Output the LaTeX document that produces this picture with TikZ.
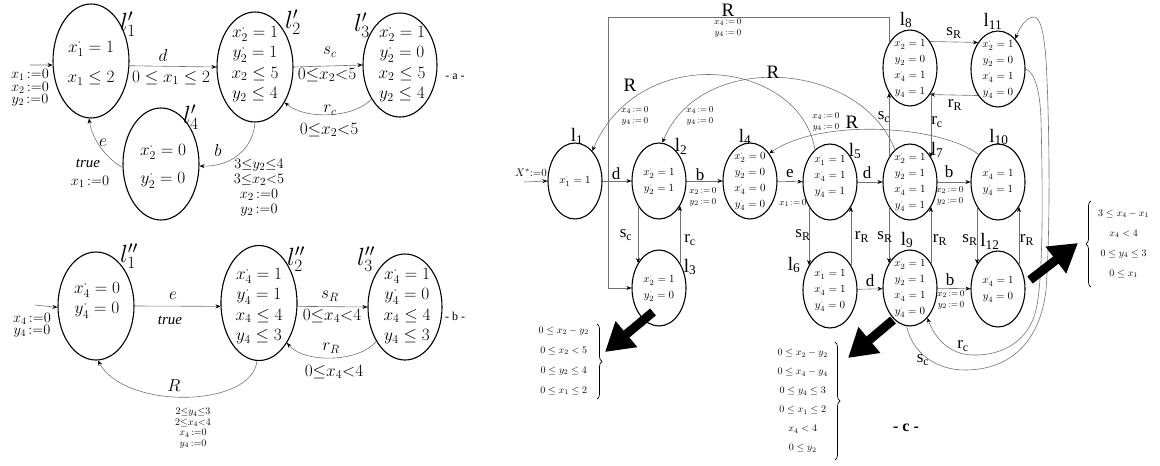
\documentclass[tikz,border=0pt]{standalone}
\usepackage{fontspec}
\setmainfont{Liberation Serif}
\usetikzlibrary{shapes.geometric,arrows.meta,decorations.pathreplacing}
\newcommand{\dotv}[3]{$#1^{\cdot}_{#2} = #3$}
\newcommand{\asgn}[2]{$#1_{#2}\,{:=}\,0$}
\begin{document}
\begin{tikzpicture}[x=1pt,y=-1pt,
  stA/.style={ellipse,draw,line width=1.1pt,minimum width=76pt,inner sep=0pt},
  stC/.style={ellipse,draw,line width=1.1pt,minimum width=54pt,minimum height=76pt,inner sep=0pt},
  txtA/.style={font=\fontsize{17}{20.5}\selectfont,align=center,inner sep=0pt},
  txtC/.style={font=\fontsize{11}{16}\selectfont,align=center,inner sep=0pt},
  conn/.style={draw=black!55,line width=0.6pt,-{Stealth[length=5pt,width=4pt,color=black]}},
  lblA/.style={font=\fontsize{17}{17}\selectfont,inner sep=0pt},
  condA/.style={font=\fontsize{15}{15}\selectfont,inner sep=0pt,align=center},
  nameA/.style={font=\fontsize{26}{26}\selectfont,inner sep=0pt},
  lblC/.style={font=\fontsize{17}{17}\selectfont,inner sep=0pt},
  nameC/.style={font=\fontsize{19}{19}\selectfont,inner sep=0pt},
  asgC/.style={font=\fontsize{9.5}{11}\selectfont,inner sep=0pt,align=center},
  bt/.style={font=\fontsize{10}{20}\selectfont,inner sep=1pt,align=center},
  brc/.style={decorate,decoration={brace,amplitude=5pt},line width=0.7pt},
  bigarrow/.style={draw=black,line width=9pt,-{Triangle[length=28pt,width=32pt]}},
  parttag/.style={font=\fontsize{12}{12}\selectfont,inner sep=0pt}
]
\useasboundingbox (0,0) rectangle (1160,466);

% ---------------- part a ----------------
\node[stA,minimum height=114pt] (a1) at (91,61) {};
\node[txtA] (a1t) at (91,63) {\dotv{x}{1}{1}\\[10pt]$x_1 \le 2$};
\node[stA,minimum height=110pt] (a2) at (255,67) {};
\node[txtA] (a2t) at (255,64) {\dotv{x}{2}{1}\\ \dotv{y}{2}{1}\\ $x_2 \le 5$\\ $y_2 \le 4$};
\node[stA,minimum width=74pt,minimum height=104pt] (a3) at (400,65) {};
\node[txtA] (a3t) at (402,64) {\dotv{x}{2}{1}\\ \dotv{y}{2}{0}\\ $x_2 \le 5$\\ $y_2 \le 4$};
\node[stA,minimum height=112pt] (a4) at (161,164) {};
\node[txtA] (a4t) at (163,166) {\dotv{x}{2}{0}\\[8pt] \dotv{y}{2}{0}};

\node[nameA] (na1) at (128,24) {$l'_1$};
\node[nameA] (na2) at (293,22) {$l'_2$};
\node[nameA] (na3) at (362,25) {$l'_3$};
\node[nameA] (na4) at (191,117) {$l'_4$};

\coordinate (ia) at (30,65);
\draw[conn] (ia) -- (a1.186);
\node[condA,font=\fontsize{14}{10}\selectfont] (ia1) at (30,88) {$x_1\,{:=}0$\\ $x_2\,{:=}0$\\ $y_2\,{:=}0$};

\draw[conn] (a1.-7) -- (a2.west);
\node[lblA] (ld) at (163,55) {$d$};
\node[lblA] (ldc) at (171,78) {$0 \le x_1 \le 2$};
\draw[conn] (a2.east) -- (a3.west);
\node[lblA] (lsc) at (330,52) {$s_c$};
\node[lblA] (lscc) at (327,75) {$0{\le}x_2{<}5$};
\draw[conn] (a3.-130) .. controls (355,118) and (305,120) .. (a2.-50);
\node[lblA] (lrc) at (330,110) {$r_c$};
\node[lblA] (lrcc) at (329,130) {$0{\le}x_2{<}5$};
\draw[conn] (a2.south) .. controls (253,150) and (230,167) .. (a4.-3);
\node[lblA] (lb) at (218,150) {$b$};
\node[condA,font=\fontsize{15}{15}\selectfont] (lbc) at (259,188) {$3{\le}y_2{\le}4$\\ $3{\le}x_2{<}5$\\ $x_2\,{:=}0$\\ $y_2\,{:=}0$};
\draw[conn] (a4.185) .. controls (108,160) and (92,140) .. (a1.-92);
\node[lblA] (le) at (103,143) {$e$};
\node[lblA,font=\fontsize{15}{15}\selectfont] (lt) at (88,163) {\textit{true}};
\node[condA] (lx1) at (90,182) {$x_1\,{:=}0$};
\node[parttag] (tagA) at (455,77) {- a -};

% ---------------- part b ----------------
\node[stA,minimum height=108pt] (b1) at (96,306) {};
\node[txtA] (b1t) at (97,300) {\dotv{x}{4}{0}\\ \dotv{y}{4}{0}};
\node[stA,minimum height=115pt] (b2) at (259,303) {};
\node[txtA] (b2t) at (259,306) {\dotv{x}{4}{1}\\ \dotv{y}{4}{1}\\ $x_4 \le 4$\\ $y_4 \le 3$};
\node[stA,minimum width=74pt,minimum height=106pt] (b3) at (405,307) {};
\node[txtA] (b3t) at (407,306) {\dotv{x}{4}{1}\\ \dotv{y}{4}{0}\\ $x_4 \le 4$\\ $y_4 \le 3$};

\node[nameA] (nb1) at (129,256) {$l''_1$};
\node[nameA] (nb2) at (296,259) {$l''_2$};
\node[nameA] (nb3) at (366,259) {$l''_3$};

\coordinate (ib) at (35,305);
\draw[conn] (ib) -- (b1.182);
\node[condA,font=\fontsize{14}{10.5}\selectfont] (ib1) at (32,325) {$x_4\,{:=}0$\\ $y_4\,{:=}0$};

\draw[conn] (b1.east) -- (b2.185);
\node[lblA] (lbe) at (173,296) {$e$};
\node[lblA,font=\fontsize{15}{15}\selectfont] (lbt) at (170,320) {\textit{true}};
\draw[conn] (b2.-5) -- (b3.west);
\node[lblA] (lsr) at (330,296) {$s_R$};
\node[lblA] (lsrc) at (332,316) {$0{\le}x_4{<}4$};
\draw[conn] (b3.-130) .. controls (360,362) and (305,364) .. (b2.-55);
\node[lblA] (lrr) at (331,348) {$r_R$};
\node[lblA] (lrrc) at (334,372) {$0{\le}x_4{<}4$};
\draw[conn] (b2.-92) .. controls (252,408) and (125,410) .. (b1.-88);
\node[lblA] (lR) at (174,386) {$R$};
\node[condA,font=\fontsize{10}{10.5}\selectfont] (lRc) at (193,428) {$2{\le}y_4{\le}3$\\ $2{\le}x_4{<}4$\\ $x_4\,{:=}0$\\ $y_4\,{:=}0$};
\node[parttag] (tagB) at (455,316) {- b -};

% ---------------- part c ----------------
\node[stC] (c1) at (575,181) {};
\node[txtC] (c1t) at (c1) {\dotv{x}{1}{1}};
\node[stC] (c2) at (659,181) {};
\node[txtC] (c2t) at (c2) {\dotv{x}{2}{1}\\ \dotv{y}{2}{1}};
\node[stC] (c3) at (659,288) {};
\node[txtC] (c3t) at (c3) {\dotv{x}{2}{1}\\ \dotv{y}{2}{0}};
\node[stC] (c4) at (750,181) {};
\node[txtC] (c4t) at (c4) {\dotv{x}{2}{0}\\ \dotv{y}{2}{0}\\ \dotv{x}{4}{0}\\ \dotv{y}{4}{0}};
\node[stC] (c5) at (830,182) {};
\node[txtC] (c5t) at (830,176) {\dotv{x}{1}{1}\\ \dotv{x}{4}{1}\\ \dotv{y}{4}{1}};
\node[stC] (c6) at (830,290) {};
\node[txtC] (c6t) at (c6) {\dotv{x}{1}{1}\\ \dotv{x}{4}{1}\\ \dotv{y}{4}{0}};
\node[stC] (c7) at (910,182) {};
\node[txtC] (c7t) at (c7) {\dotv{x}{2}{1}\\ \dotv{y}{2}{1}\\ \dotv{x}{4}{1}\\ \dotv{y}{4}{1}};
\node[stC] (c8) at (910,68) {};
\node[txtC] (c8t) at (c8) {\dotv{x}{2}{1}\\ \dotv{y}{2}{0}\\ \dotv{x}{4}{1}\\ \dotv{y}{4}{1}};
\node[stC] (c9) at (910,288) {};
\node[txtC] (c9t) at (c9) {\dotv{x}{2}{1}\\ \dotv{y}{2}{1}\\ \dotv{x}{4}{1}\\ \dotv{y}{4}{0}};
\node[stC] (c10) at (998,182) {};
\node[txtC] (c10t) at (c10) {\dotv{x}{4}{1}\\ \dotv{y}{4}{1}};
\node[stC] (c11) at (998,69) {};
\node[txtC] (c11t) at (c11) {\dotv{x}{2}{1}\\ \dotv{y}{2}{0}\\ \dotv{x}{4}{1}\\ \dotv{y}{4}{0}};
\node[stC] (c12) at (998,289) {};
\node[txtC] (c12t) at (c12) {\dotv{x}{4}{1}\\ \dotv{y}{4}{0}};

\node[nameC] (nc1) at (577,136) {l\textsubscript{1}};
\node[nameC] (nc2) at (681,146) {l\textsubscript{2}};
\node[nameC] (nc3) at (690,267) {l\textsubscript{3}};
\node[nameC] (nc4) at (745,137) {l\textsubscript{4}};
\node[nameC] (nc5) at (855,151) {l\textsubscript{5}};
\node[nameC] (nc6) at (794,265) {l\textsubscript{6}};
\node[nameC] (nc7) at (937,150) {l\textsubscript{7}};
\node[nameC] (nc8) at (906,20) {l\textsubscript{8}};
\node[nameC] (nc9) at (907,240) {l\textsubscript{9}};
\node[nameC] (nc10) at (999,137) {l\textsubscript{10}};
\node[nameC] (nc11) at (993,21) {l\textsubscript{11}};
\node[nameC] (nc12) at (990,241) {l\textsubscript{12}};

% initial
\coordinate (ic) at (524,182);
\draw[conn] (ic) -- (c1.west);
\node[font=\fontsize{11}{11}\selectfont,inner sep=0pt] (icl) at (531,173) {$X^{*}{:=}0$};

% horizontal edges
\draw[conn] (c1) -- (c2);
\node[lblC] (cd1) at (616,174) {d};
\draw[conn] (c2) -- (c4);
\node[lblC] (cb1) at (700,175) {b};
\node[asgC] (cb1a) at (703,197) {\asgn{x}{2}\\ \asgn{y}{2}};
\draw[conn] (c4) -- (c5);
\node[lblC] (ce1) at (790,174) {e};
\node[asgC] (ce1a) at (793,203) {\asgn{x}{1}};
\draw[conn] (c5) -- (c7);
\node[lblC] (cd2) at (867,173) {d};
\draw[conn] (c7) -- (c10);
\node[lblC] (cb2) at (949,172) {b};
\node[asgC] (cb2a) at (950,196) {\asgn{x}{2}\\ \asgn{y}{2}};
\draw[conn] (c6) -- (c9);
\node[lblC] (cd3) at (870,281) {d};
\draw[conn] (c9) -- (c12);
\node[lblC] (cb3) at (950,280) {b};
\node[asgC] (cb3a) at (951,300) {\asgn{x}{2}\\ \asgn{y}{2}};
\draw[conn] (c8.53) -- (c11.127);
\node[lblC] (csr0) at (954,33) {s\textsubscript{R}};
\draw[conn] (c11.-127) -- (c8.-53);
\node[lblC] (crr0) at (955,105) {r\textsubscript{R}};

% vertical edges
\draw[conn] (c2.-130) -- (c3.130);
\node[lblC] (csc1) at (626,235) {s\textsubscript{c}};
\draw[conn] (c3.50) -- (c2.-50);
\node[lblC] (crc1) at (690,240) {r\textsubscript{c}};
\draw[conn] (c5.-130) -- (c6.130);
\node[lblC] (csr1) at (803,235) {s\textsubscript{R}};
\draw[conn] (c6.50) -- (c5.-50);
\node[lblC] (crr1) at (862,237) {r\textsubscript{R}};
\draw[conn] (c7.-130) -- (c9.130);
\node[lblC] (csr2) at (885,237) {s\textsubscript{R}};
\draw[conn] (c9.50) -- (c7.-50);
\node[lblC] (crr2) at (940,240) {r\textsubscript{R}};
\draw[conn] (c10.-130) -- (c12.130);
\node[lblC] (csr3) at (970,240) {s\textsubscript{R}};
\draw[conn] (c12.50) -- (c10.-50);
\node[lblC] (crr3) at (1027,240) {r\textsubscript{R}};
\draw[conn] (c7.130) -- (c8.-130);
\node[lblC] (csc2) at (884,117) {s\textsubscript{c}};
\draw[conn] (c8.-50) -- (c7.50);
\node[lblC] (crc2) at (937,122) {r\textsubscript{c}};

% R rectangle path l8 -> l3
\coordinate (rtl) at (608,17);
\draw[conn] (c8.130) |- (rtl) |- (c3.west);
\node[lblC,font=\fontsize{19}{19}\selectfont] (cR0) at (728,10) {R};
\node[asgC] (cR0a) at (728,28) {\asgn{x}{4}\\ \asgn{y}{4}};

% R curves
\draw[conn] (c5.115) .. controls (800,60) and (640,40) .. (c1.60);
\node[lblC,font=\fontsize{19}{19}\selectfont] (cR1) at (630,85) {R};
\node[asgC] (cR1a) at (635,116) {\asgn{x}{4}\\ \asgn{y}{4}};
\draw[conn] (c7.115) .. controls (860,60) and (700,50) .. (c2.85);
\node[lblC,font=\fontsize{19}{19}\selectfont] (cR2) at (773,72) {R};
\node[asgC] (cR2a) at (700,116) {\asgn{x}{4}\\ \asgn{y}{4}};
\draw[conn] (c10.125) .. controls (940,125) and (820,118) .. (c4.55);
\node[lblC,font=\fontsize{19}{19}\selectfont] (cR3) at (852,122) {R};
\node[asgC] (cR3a) at (826,122) {\asgn{x}{4}\\ \asgn{y}{4}};

% s_c / r_c around the right side
\draw[conn] (c9.-95) .. controls (912,352) and (935,370) .. (965,370) .. controls (1010,370) and (1040,342) .. (1046,290) .. controls (1051,220) and (1049,110) .. (1046,60) .. controls (1044,32) and (1040,17) .. (1034,17) .. controls (1027,17) and (1020,26) .. (c11.60);
\draw[conn] (c11.east) .. controls (1034,72) and (1040,88) .. (1041,120) .. controls (1043,200) and (1043,280) .. (1036,310) .. controls (1028,343) and (1000,356) .. (972,355) .. controls (950,354) and (936,340) .. (c9.-60);
\node[lblC] (crc3) at (963,346) {r\textsubscript{c}};
\node[lblC] (csc3) at (923,360) {s\textsubscript{c}};

% constraint sets
\node[bt,anchor=east] (bt1) at (590,361) {$0 \le x_2 - y_2$\\ $0 \le x_2 < 5$\\ $0 \le y_2 \le 4$\\ $0 \le x_1 \le 2$};
\draw[brc] ([xshift=7pt,yshift=2pt]bt1.north east) -- ([xshift=7pt,yshift=-3pt]bt1.south east);
\node[bt,anchor=west] (bt2) at (1097,244) {$3 \le x_4 - x_1$\\ $x_4 < 4$\\ $0 \le y_4 \le 3$\\ $0 \le x_1$};
\draw[brc] ([xshift=-6pt,yshift=-8pt]bt2.south west) -- ([xshift=-6pt,yshift=8pt]bt2.north west);
\node[bt,font=\fontsize{10}{19}\selectfont,anchor=east] (bt3) at (829,401) {$0 \le x_2 - y_2$\\ $0 \le x_4 - y_4$\\ $0 \le y_4 \le 3$\\ $0 \le x_1 \le 2$\\ $x_4 < 4$\\ $0 \le y_2$};
\draw[brc] ([xshift=6pt,yshift=6pt]bt3.north east) -- ([xshift=6pt,yshift=-6pt]bt3.south east);

% big arrows
\coordinate (k1) at (605,352);
\draw[bigarrow] ([shift={(-6,24)}]c3.center) -- (k1);
\coordinate (k2) at (1078,243);
\draw[bigarrow] ([shift={(32,-9)}]c12.center) -- (k2);
\coordinate (k3) at (848,358);
\draw[bigarrow] ([shift={(-17,32)}]c9.center) -- (k3);

\node[font=\bfseries\fontsize{16}{16}\selectfont,inner sep=0pt] (tagC) at (906,428) {- c -};
\end{tikzpicture}
\end{document}
